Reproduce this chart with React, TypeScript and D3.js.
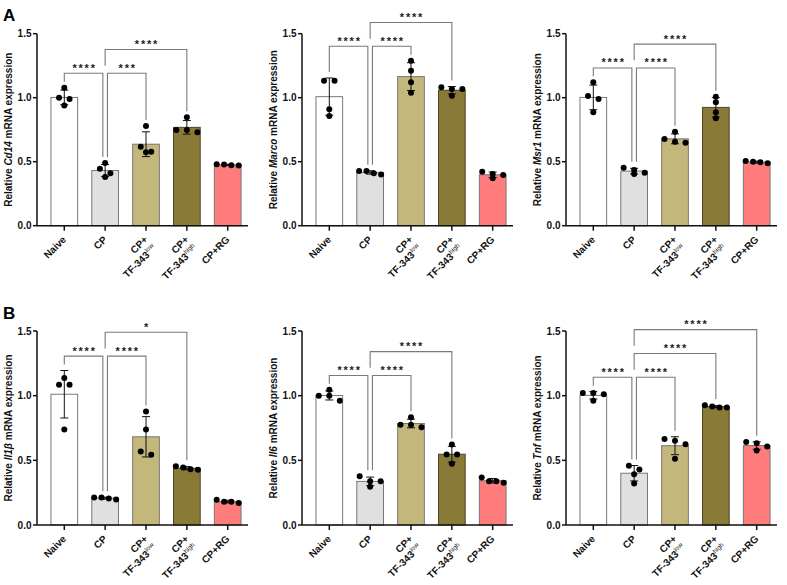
import React from 'react'
import * as d3 from 'd3'

const groups = ['Naive', 'CP', 'CP+TF-343low', 'CP+TF-343high', 'CP+RG']
const labelLine1 = ['Naive', 'CP', 'CP+', 'CP+', 'CP+RG']
const labelLine2 = ['', '', 'TF-343', 'TF-343', '']
const labelSup = ['', '', 'low', 'high', '']
const barColors = ['#ffffff', '#e0e0e0', '#c3b77c', '#8a7a38', '#ff7c7c']
const yTicks = [0, 0.5, 1.0, 1.5]

// replicate values per group (n = 4)
const cd14 = [
  [1.078, 1.0, 0.99, 0.94],
  [0.489, 0.445, 0.41, 0.38],
  [0.779, 0.617, 0.578, 0.573],
  [0.847, 0.748, 0.748, 0.73],
  [0.47, 0.48, 0.472, 0.478],
]
const marco = [
  [1.133, 1.133, 0.909, 0.857],
  [0.4, 0.427, 0.41, 0.427],
  [1.289, 1.211, 1.12, 1.039],
  [1.081, 1.068, 1.068, 1.016],
  [0.422, 0.37, 0.404, 0.396],
]
const msr1 = [
  [1.12, 1.013, 0.99, 0.886],
  [0.453, 0.404, 0.435, 0.414],
  [0.734, 0.677, 0.648, 0.656],
  [1.008, 0.964, 0.886, 0.839],
  [0.487, 0.505, 0.495, 0.5],
]
const il1b = [
  [1.136, 1.085, 1.085, 0.738],
  [0.198, 0.213, 0.205, 0.213],
  [0.877, 0.738, 0.544, 0.569],
  [0.431, 0.454, 0.428, 0.444],
  [0.17, 0.195, 0.18, 0.18],
]
const il6 = [
  [1.045, 1.0, 1.0, 0.96],
  [0.377, 0.338, 0.338, 0.295],
  [0.833, 0.756, 0.775, 0.775],
  [0.623, 0.546, 0.546, 0.474],
  [0.367, 0.326, 0.338, 0.338],
]
const tnf = [
  [1.02, 1.01, 0.96, 1.02],
  [0.43, 0.458, 0.393, 0.32],
  [0.651, 0.664, 0.625, 0.512],
  [0.909, 0.925, 0.909, 0.917],
  [0.641, 0.576, 0.633, 0.607],
]

// [group a, group b, stars]
const cd14Comps: [number, number, string][] = [[0, 1, '****'], [1, 2, '***'], [1, 3, '****']]
const marcoComps: [number, number, string][] = [[0, 1, '****'], [1, 2, '****'], [1, 3, '****']]
const msr1Comps: [number, number, string][] = [[0, 1, '****'], [1, 2, '****'], [1, 3, '****']]
const il1bComps: [number, number, string][] = [[0, 1, '****'], [1, 2, '****'], [1, 3, '*']]
const il6Comps: [number, number, string][] = [[0, 1, '****'], [1, 2, '****'], [1, 3, '****']]
const tnfComps: [number, number, string][] = [[0, 1, '****'], [1, 2, '****'], [1, 3, '****'], [1, 4, '****']]

const FONT = "Arial, 'Liberation Sans', sans-serif"

const panels = [
  { gene: 'Cd14', data: cd14, comps: cd14Comps, ax: 37, row: 0 },
  { gene: 'Marco', data: marco, comps: marcoComps, ax: 302, row: 0 },
  { gene: 'Msr1', data: msr1, comps: msr1Comps, ax: 566, row: 0 },
  { gene: 'Il1β', data: il1b, comps: il1bComps, ax: 37, row: 1 },
  { gene: 'Il6', data: il6, comps: il6Comps, ax: 302, row: 1 },
  { gene: 'Tnf', data: tnf, comps: tnfComps, ax: 566, row: 1 },
]
const rows = [
  { top: 33.7, bottom: 225.7 },
  { top: 331, bottom: 525 },
]

// spread overlapping dots horizontally, Prism-like rows
function spreadDots(vals: number[], y: (v: number) => number) {
  const order = vals.map((_, i) => i).sort((a, b) => vals[b] - vals[a])
  const bins: number[][] = []
  order.forEach((i) => {
    const last = bins[bins.length - 1]
    if (last && Math.abs(y(vals[last[0]]) - y(vals[i])) < 5.5) last.push(i)
    else bins.push([i])
  })
  const off = new Array(vals.length).fill(0)
  bins.forEach((b) => {
    const k = b.length
    const s = k > 1 ? Math.min(10.5, 22 / (k - 1)) : 0
    b.forEach((i, j) => (off[i] = (j - (k - 1) / 2) * s))
  })
  return off
}

const Panel = ({ p }: { p: (typeof panels)[number] }) => {
  const r = rows[p.row]
  const y = d3.scaleLinear().domain([0, 1.5]).range([r.bottom, r.top])
  const x = d3.scalePoint<string>().domain(groups).range([p.ax + 27.3, p.ax + 190.7])
  const bw = 26.7
  const stats = p.data.map((vals) => {
    const m = d3.mean(vals) as number
    const sd = d3.deviation(vals) as number
    return { m, sd, top: Math.max(d3.max(vals) as number, m + sd) }
  })
  const topY = stats.map((s) => y(s.top))
  const cx = (i: number) => x(groups[i]) as number

  // bracket levels: pairs touching adjacent groups at level 0
  const lvl0 = p.comps.filter(([a, b]) => b - a === 1)
  const upper = p.comps.filter(([a, b]) => b - a > 1)
  const base = (d3.min(lvl0.flatMap(([a, b]) => [topY[a], topY[b]])) as number) - 14.4
  const step = 23.8
  const brackets = [
    ...lvl0.map(([a, b, s]) => {
      const xa = a === 1 ? cx(a) + 2.3 : cx(a)
      const xb = b === 1 ? cx(b) - 2.3 : cx(b)
      return { xa, xb, yb: base, ya: topY[a] - 6, yb2: topY[b] - 6, s }
    }),
    ...upper.map(([a, b, s], k) => {
      const yb = base - step * (k + 1)
      return { xa: cx(a), xb: cx(b), yb, ya: yb + step - 7.6, yb2: topY[b] - 6, s }
    }),
  ]

  return (
    <g>
      {/* bars */}
      {stats.map((s, i) => (
        <rect
          key={i}
          x={cx(i) - bw / 2}
          y={y(s.m)}
          width={bw}
          height={y(0) - y(s.m)}
          fill={barColors[i]}
          stroke={i === 3 ? '#4d4424' : '#777'}
          strokeWidth={1}
        />
      ))}
      {/* error bars */}
      {stats.map((s, i) => (
        <g key={i} stroke="#111" strokeWidth={1}>
          <line x1={cx(i)} x2={cx(i)} y1={y(s.m + s.sd)} y2={y(Math.max(0, s.m - s.sd))} />
          <line x1={cx(i) - 4} x2={cx(i) + 4} y1={y(s.m + s.sd)} y2={y(s.m + s.sd)} />
          <line x1={cx(i) - 4} x2={cx(i) + 4} y1={y(s.m - s.sd)} y2={y(s.m - s.sd)} />
        </g>
      ))}
      {/* dots */}
      {p.data.map((vals, i) => {
        const off = spreadDots(vals, y)
        return vals.map((v, j) => <circle key={`${i}-${j}`} cx={cx(i) + off[j]} cy={y(v)} r={3} fill="#000" />)
      })}
      {/* brackets */}
      {brackets.map((b, i) => (
        <g key={i}>
          <path
            d={`M${b.xa},${b.ya}V${b.yb}H${b.xb}V${b.yb2}`}
            fill="none"
            stroke="#7a7a7a"
            strokeWidth={1.1}
          />
          <text
            x={(b.xa + b.xb) / 2 + 1}
            y={b.yb - 1.5}
            textAnchor="middle"
            fontFamily={FONT}
            fontWeight="bold"
            fontSize={11}
            letterSpacing={1.8}
            fill="#222"
          >
            {b.s}
          </text>
        </g>
      ))}
      {/* y axis */}
      <line x1={p.ax} x2={p.ax} y1={y(0)} y2={y(1.5)} stroke="#111" strokeWidth={1.5} />
      {yTicks.map((t) => (
        <g key={t}>
          <line x1={p.ax - 4} x2={p.ax} y1={y(t)} y2={y(t)} stroke="#111" strokeWidth={1.5} />
          <text
            x={p.ax - 5.5}
            y={y(t) + 3.6}
            textAnchor="end"
            fontFamily={FONT}
            fontWeight="bold"
            fontSize={10}
            fill="#111"
          >
            {d3.format('.1f')(t)}
          </text>
        </g>
      ))}
      {/* x axis */}
      <line x1={p.ax} x2={p.ax + 211} y1={y(0)} y2={y(0)} stroke="#111" strokeWidth={1.5} />
      {groups.map((g, i) => (
        <g key={g}>
          <line x1={cx(i)} x2={cx(i)} y1={y(0)} y2={y(0) + 5} stroke="#111" strokeWidth={1.5} />
          <text
            transform={`translate(${cx(i) + 2.5},${y(0) + 14.5}) rotate(-45)`}
            textAnchor="end"
            fontFamily={FONT}
            fontWeight="bold"
            fontSize={10}
            fill="#111"
          >
            <tspan x={0} dy={0}>
              {labelLine1[i]}
            </tspan>
            {labelLine2[i] && (
              <>
                <tspan x={0} dy={12}>
                  {labelLine2[i]}
                </tspan>
                <tspan dy={-4} fontSize={6.5} fontWeight="normal">
                  {labelSup[i]}
                </tspan>
              </>
            )}
          </text>
        </g>
      ))}
      {/* y label */}
      <text
        transform={`translate(${p.ax - 25.5},${(y(0) + y(1.5)) / 2}) rotate(-90)`}
        textAnchor="middle"
        fontFamily={FONT}
        fontWeight="bold"
        fontSize={10}
        fill="#111"
      >
        Relative <tspan fontStyle="italic">{p.gene}</tspan> mRNA expression
      </text>
    </g>
  )
}

const App = () => {
  return (
    <svg
      width={787}
      height={585}
      style={{ position: 'absolute', left: 0, top: 0, background: '#fff' }}
    >
      <rect width={787} height={585} fill="#fff" />
      <text x={3} y={20.5} fontFamily={FONT} fontWeight="bold" fontSize={17}>
        A
      </text>
      <text x={3} y={318.5} fontFamily={FONT} fontWeight="bold" fontSize={17}>
        B
      </text>
      {panels.map((p) => (
        <Panel key={p.gene} p={p} />
      ))}
    </svg>
  )
}

export default App
